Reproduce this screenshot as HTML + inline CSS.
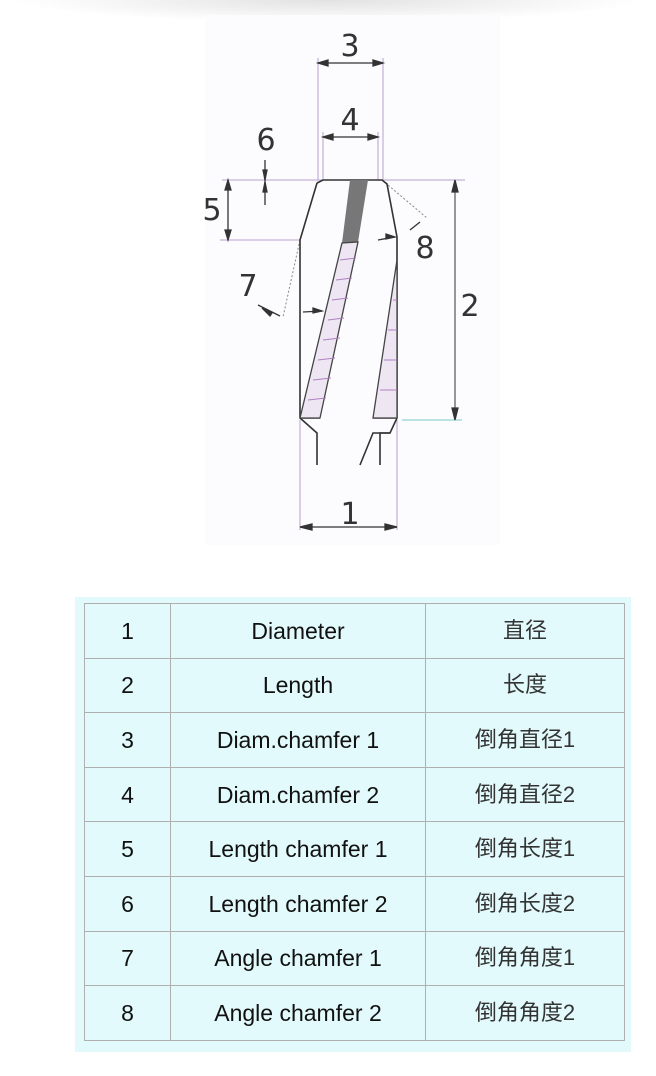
<!DOCTYPE html>
<html><head><meta charset="utf-8">
<style>
body{margin:0;width:656px;height:1076px;background:#fff;position:relative;overflow:hidden;font-family:"Liberation Sans","Noto Sans CJK SC",sans-serif}
.shadow{position:absolute;left:0;top:0;width:656px;height:22px;background:radial-gradient(ellipse 48% 100% at 50% 0,#e2e2e2,#f6f6f6 70%,#fff)}
.box{position:absolute;left:75px;top:597px;width:556px;height:455px;background:#e2fafc}
table{position:absolute;left:84px;top:603px;border-collapse:collapse;width:540px;table-layout:fixed}
td{border:1.5px solid #b0b0b0;height:54.6px;line-height:20px;text-align:center;font-size:23px;color:#111;padding:0;box-sizing:border-box}
td.c{color:#333;font-size:22px}
</style></head><body>
<div class="shadow"></div>
<svg width="656" height="560" style="position:absolute;left:0;top:0" font-family="DejaVu Sans, sans-serif">
<rect x="205" y="15" width="295" height="530" fill="#fcfbfd"/>
<g stroke="#b9a0d0" stroke-width="1" fill="none">
<line x1="318" y1="58" x2="318" y2="180"/><line x1="383" y1="58" x2="383" y2="180"/>
<line x1="323" y1="132" x2="323" y2="180"/><line x1="378" y1="132" x2="378" y2="180"/>
<line x1="222" y1="180" x2="465" y2="180"/>
<line x1="220" y1="240" x2="300" y2="240"/>
<line x1="402" y1="420" x2="462" y2="420" stroke="#7cc"/>
<line x1="300" y1="420" x2="300" y2="530"/><line x1="397" y1="420" x2="397" y2="530"/>
<line x1="300" y1="240" x2="283" y2="317" stroke-dasharray="2,2" stroke="#888"/>
<line x1="382" y1="180" x2="427" y2="218" stroke-dasharray="2,2" stroke="#888"/>
</g>
<g stroke="#333" stroke-width="1.3" fill="#333">
<line x1="318" y1="63" x2="383" y2="63"/><path d="M318 63l10-3v6z M383 63l-10-3v6z"/>
<line x1="323" y1="137" x2="378" y2="137"/><path d="M323 137l10-3v6z M378 137l-10-3v6z"/>
<line x1="265" y1="160" x2="265" y2="205"/><path d="M265 180l-2-10h4z M265 182l-2 10h4z"/>
<line x1="228" y1="180" x2="228" y2="240"/><path d="M228 180l-3 10h6z M228 240l-3-10h6z"/>
<line x1="455" y1="180" x2="455" y2="420" stroke-width="1"/><path d="M455 180l-3 12h6z M455 420l-3-12h6z"/>
<line x1="300" y1="527" x2="397" y2="527"/><path d="M300 527l12-3v6z M397 527l-12-3v6z"/>
<path d="M262 308l10 5-2 3z" /><line x1="258" y1="305" x2="280" y2="316"/>
<line x1="303" y1="312" x2="322" y2="311"/><path d="M322 311l-9-3v5z"/>
<line x1="378" y1="240" x2="395" y2="237"/><path d="M395 237l-9-3v5z"/>
<line x1="410" y1="230" x2="420" y2="222"/>
</g>
<g stroke="#333" stroke-width="1.6" fill="none">
<path d="M317 183 L323 180 L382 180 L387 184 L397 237 L397 418"/>
<path d="M317 183 L300 240 L300 418 L317 433 L317 465"/>
<path d="M397 418 L390 433 L380 433 L380 465"/>
<path d="M390 433 L373 433 L360 465"/>
<line x1="300" y1="418" x2="320" y2="418"/>
<line x1="373" y1="418" x2="397" y2="418"/>
</g>
<path d="M350 180 L368 180 L358 242 L342 243 Z" fill="#777"/>
<path d="M342 243 L358 242 L320 418 L300 418 Z" fill="#eee6f2" stroke="#444" stroke-width="1.3"/>
<path d="M397 260 L397 418 L373 418 Z" fill="#eee6f2" stroke="#444" stroke-width="1.3"/>
<g stroke="#b080c0" stroke-width="1">
<line x1="340" y1="260" x2="356" y2="258"/><line x1="336" y1="280" x2="352" y2="278"/><line x1="332" y1="300" x2="348" y2="298"/><line x1="328" y1="320" x2="344" y2="318"/><line x1="323" y1="340" x2="340" y2="338"/><line x1="318" y1="360" x2="335" y2="358"/><line x1="313" y1="380" x2="331" y2="378"/><line x1="308" y1="400" x2="326" y2="398"/>
<line x1="393" y1="300" x2="397" y2="300"/><line x1="388" y1="330" x2="397" y2="330"/><line x1="384" y1="360" x2="397" y2="360"/><line x1="380" y1="390" x2="397" y2="390"/>
</g>
<g font-size="30" fill="#333" text-anchor="middle">
<text x="350" y="56">3</text><text x="350" y="130">4</text><text x="266" y="150">6</text>
<text x="212" y="220">5</text><text x="248" y="296">7</text><text x="425" y="258">8</text>
<text x="470" y="316">2</text><text x="350" y="524">1</text>
</g>
</svg>
<div class="box"></div>
<table>
<colgroup><col style="width:86px"><col style="width:255px"><col style="width:199px"></colgroup>
<tr><td>1</td><td>Diameter</td><td class="c">直径</td></tr>
<tr><td>2</td><td>Length</td><td class="c">长度</td></tr>
<tr><td>3</td><td>Diam.chamfer 1</td><td class="c">倒角直径1</td></tr>
<tr><td>4</td><td>Diam.chamfer 2</td><td class="c">倒角直径2</td></tr>
<tr><td>5</td><td>Length chamfer 1</td><td class="c">倒角长度1</td></tr>
<tr><td>6</td><td>Length chamfer 2</td><td class="c">倒角长度2</td></tr>
<tr><td>7</td><td>Angle chamfer 1</td><td class="c">倒角角度1</td></tr>
<tr><td>8</td><td>Angle chamfer 2</td><td class="c">倒角角度2</td></tr>
</table>
</body></html>
